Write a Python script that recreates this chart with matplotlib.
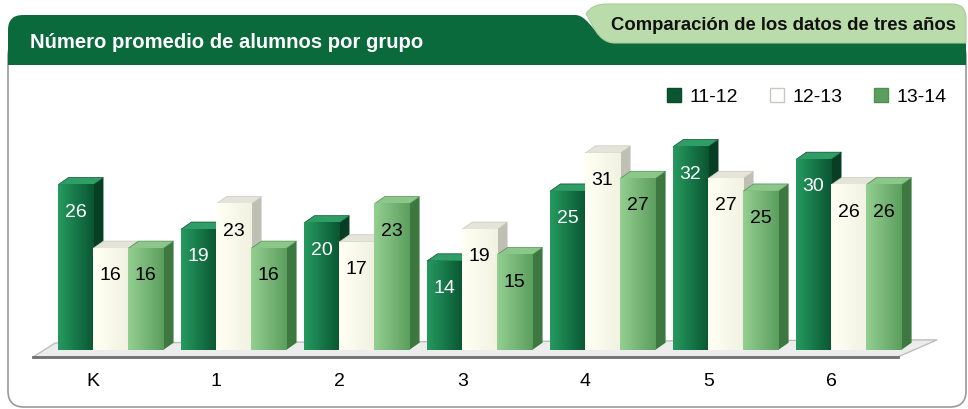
import matplotlib.pyplot as plt
import numpy as np
from matplotlib.colors import LinearSegmentedColormap
from matplotlib.patches import Polygon, FancyBboxPatch, PathPatch
from matplotlib.path import Path
from matplotlib.lines import Line2D

plt.rcParams['font.family'] = ['Liberation Sans', 'DejaVu Sans']

# data
grades = ['K', '1', '2', '3', '4', '5', '6']
years = ['11-12', '12-13', '13-14']
v_1112 = [26, 19, 20, 14, 25, 32, 30]
v_1213 = [16, 23, 17, 19, 31, 27, 26]
v_1314 = [16, 16, 23, 15, 27, 25, 26]

# styles: (gradient left, gradient right, side, top, edge, label color)
styles = [
    ('#259a60', '#0a5632', '#083f24', '#2f9e66', '#0a4a2a', 'white'),
    ('#fffff4', '#f2f2e2', '#bfbfb4', '#e4e4da', '#c8c8bc', 'black'),
    ('#93cf90', '#5c9e5e', '#3d7841', '#8cc78a', '#4f8f52', 'black'),
]

fig = plt.figure(figsize=(9.68, 4.09), dpi=100)

# background: panel + header in pixel coords
bg = fig.add_axes([0, 0, 1, 1])
bg.set_xlim(0, 968)
bg.set_ylim(409, 0)
bg.axis('off')

bg.add_patch(FancyBboxPatch((8, 40), 958, 367, boxstyle='round,pad=0,rounding_size=16',
                            fc='white', ec='#9a9a9a', lw=1.2))

dark_path = Path(
    [(8, 65), (8, 30), (8, 15), (23, 15), (575, 15), (590, 15), (597, 43), (615, 43),
     (966, 43), (966, 65), (8, 65)],
    [Path.MOVETO, Path.LINETO, Path.CURVE3, Path.CURVE3, Path.LINETO, Path.CURVE4,
     Path.CURVE4, Path.CURVE4, Path.LINETO, Path.LINETO, Path.CLOSEPOLY])
bg.add_patch(PathPatch(dark_path, fc='#0b6a3c', ec='none'))

tab_path = Path(
    [(615, 43), (597, 43), (592, 22), (586, 14), (592, 4), (606, 4), (952, 4),
     (966, 4), (966, 18), (966, 43), (615, 43)],
    [Path.MOVETO, Path.CURVE4, Path.CURVE4, Path.CURVE4, Path.CURVE3, Path.CURVE3,
     Path.LINETO, Path.CURVE3, Path.CURVE3, Path.LINETO, Path.CLOSEPOLY])
bg.add_patch(PathPatch(tab_path, fc='#b9dcaa', ec='#a9cc9a', lw=0.8))

bg.text(30, 42, 'Número promedio de alumnos por grupo', color='white', fontsize=14.6,
        fontweight='bold', va='center')
bg.text(956, 26, 'Comparación de los datos de tres años', color='#111111', fontsize=13.3,
        fontweight='bold', va='center', ha='right')

# chart axes
ax = fig.add_axes([20 / 968, 9 / 409, 940 / 968, 330 / 409])
ax.set_facecolor('none')
ax.axis('off')

w = 0.285
dx, dy = 0.085, 1.15
x = np.arange(len(grades))

# floor
floor = Polygon([(-0.63, -1.1), (6.40, -1.1), (6.72, 1.6), (-0.45, 1.1)],
                closed=True, fc='#ececec', ec='#bdbdbd', lw=1, zorder=1)
ax.add_patch(floor)
ax.plot([-0.63, 6.40], [-1.1, -1.1], color='#6f6f6f', lw=2, zorder=1.5)

series = [v_1112, v_1213, v_1314]
for j, vals in enumerate(series):
    c_left, c_right, c_side, c_top, c_edge, c_lab = styles[j]
    base = 2 + j * 3
    xs = x + (j - 1) * w
    bars = ax.bar(xs, vals, width=w, color=c_right, edgecolor='none', zorder=base + 1)
    cmap = LinearSegmentedColormap.from_list('g%d' % j, [c_left, c_right])
    grad = np.linspace(0, 1, 64).reshape(1, -1)
    for rect, v in zip(bars, vals):
        x0 = rect.get_x()
        x1 = x0 + rect.get_width()
        h = rect.get_height()
        ax.add_patch(Polygon([(x1, 0), (x1 + dx, dy), (x1 + dx, h + dy), (x1, h)],
                             closed=True, fc=c_side, ec='none', zorder=base))
        ax.add_patch(Polygon([(x0, h), (x1, h), (x1 + dx, h + dy), (x0 + dx, h + dy)],
                             closed=True, fc=c_top, ec=c_edge, lw=0.5, zorder=base))
        ax.imshow(grad, cmap=cmap, extent=[x0, x1, 0, h], aspect='auto',
                  interpolation='bilinear', zorder=base + 1.5)
        ax.text((x0 + x1) / 2, h - 4.3, str(v), ha='center', va='center',
                fontsize=14, color=c_lab, zorder=20)

for i, g in enumerate(grades):
    ax.text(x[i] - 0.14, -5.0, g, ha='center', va='center', fontsize=14, color='black')

ax.set_xlim(-0.736, 6.906)
ax.set_ylim(-7.87, 44.09)

handles = [Line2D([], [], marker='s', ls='none', markersize=10,
                  mfc=styles[j][1] if j != 1 else '#ffffff', mec=styles[j][4])
           for j in range(3)]
fig.legend(handles, years, loc='center right', bbox_to_anchor=(947 / 968, 1 - 97 / 409),
           ncol=3, frameon=False, fontsize=14, handletextpad=0.4, columnspacing=1.6,
           handlelength=0.8, borderpad=0, borderaxespad=0)

fig.savefig('out.png', dpi=100)
